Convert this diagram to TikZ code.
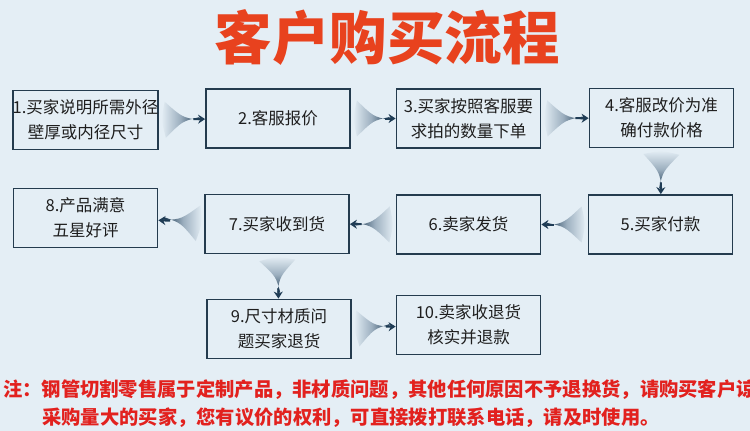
\documentclass[tikz,border=0pt]{standalone}
\usepackage{fontspec}
\newfontfamily\cjk{Noto Sans CJK SC}
\usetikzlibrary{arrows.meta,calc}

\definecolor{bgcol}{HTML}{E4EEF5}
\definecolor{boxline}{HTML}{243B4E}
\definecolor{textcol}{HTML}{1E1E1E}
\definecolor{titlecol}{HTML}{E8421E}
\definecolor{notecol}{HTML}{E2211E}
\definecolor{fanmid}{HTML}{9CAFBF}
\definecolor{fandark}{HTML}{1F3C55}

% shaded fan behind each connector: #1 source anchor, #2 target anchor, #3 shading angle
\newcommand{\fan}[3]{%
  \coordinate (fs) at ($(#1)!6pt!(#2)$);
  \coordinate (ft) at ($(#2)!6pt!(#1)$);
  \shade[top color=bgcol, bottom color=fandark, middle color=fanmid, shading angle=#3]
    ($(fs)!18pt!90:(ft)$) .. controls ($(fs)!0.5!(ft)!2pt!90:(ft)$) .. ($(ft)!1.5pt!90:(fs)$)
    -- ($(ft)!1.5pt!-90:(fs)$)
    .. controls ($(fs)!0.5!(ft)!2pt!-90:(ft)$) .. ($(fs)!18pt!-90:(ft)$)
    .. controls ($(fs)!-4pt!(ft)$) .. ($(fs)!18pt!90:(ft)$) -- cycle;
}

\begin{document}
\begin{tikzpicture}[
    x=1pt, y=-1pt,
    box/.style={draw=boxline, line width=1.8pt, fill=bgcol, minimum width=144pt,
        minimum height=59pt, inner sep=0pt, align=center, text=textcol,
        font=\cjk\fontsize{16.5}{25}\selectfont},
    conn/.style={-{Stealth[length=7pt,width=9pt]}, line width=2pt, draw=fandark,
        shorten <=34pt}
]
    \useasboundingbox (0,0) rectangle (750,431);
    \fill[bgcol] (0,0) rectangle (750,431);
    \clip (0,0) rectangle (750,431);

    \node[text=titlecol, font=\cjk\bfseries\fontsize{57.5}{60}\selectfont] (title) at (387,38) {客户购买流程};

    % first row
    \node[box] (b1) at (85.5,120) {1.买家说明所需外径\\壁厚或内径尺寸};
    \node[box] (b2) at (278,118.5) {2.客服报价};
    \node[box] (b3) at (468.5,118.5) {3.买家按照客服要\\求拍的数量下单};
    \node[box] (b4) at (661.5,118) {4.客服改价为准\\确付款价格};

    % second row
    \node[box] (b5) at (660.5,224.5) {5.买家付款};
    \node[box] (b6) at (468.5,224.5) {6.卖家发货};
    \node[box] (b7) at (277,224) {7.买家收到货};
    \node[box] (b8) at (85.5,218) {8.产品满意\\五星好评};

    % third row
    \node[box] (b9) at (279,329) {9.尺寸材质问\\题买家退货};
    \node[box] (b10) at (468.5,325) {10.卖家收退货\\核实并退款};

    % fans
    \fan{b1.east}{b2.west}{90}
    \fan{b2.east}{b3.west}{90}
    \fan{b3.east}{b4.west}{90}
    \fan{b4.south}{b5.north}{0}
    \fan{b5.west}{b6.east}{-90}
    \fan{b6.west}{b7.east}{-90}
    \fan{b7.west}{b8.east}{-90}
    \fan{b7.south}{b9.north}{0}
    \fan{b9.east}{b10.west}{90}

    % connectors
    \draw[conn] (b1) -- (b2);
    \draw[conn] (b2) -- (b3);
    \draw[conn] (b3) -- (b4);
    \draw[conn] (b4) -- (b5);
    \draw[conn] (b5) -- (b6);
    \draw[conn] (b6) -- (b7);
    \draw[conn] (b7) -- (b8);
    \draw[conn] (b7) -- (b9);
    \draw[conn] (b9) -- (b10);

    % note
    \node[anchor=west, inner sep=0pt, text=notecol, font=\cjk\bfseries\fontsize{19.3}{20}\selectfont] (note1) at (3,390)
        {注：钢管切割零售属于定制产品，非材质问题，其他任何原因不予退换货，请购买客户谅解。};
    \node[anchor=west, inner sep=0pt, text=notecol, font=\cjk\bfseries\fontsize{19.3}{20}\selectfont] (note2) at (42,418)
        {采购量大的买家，您有议价的权利，可直接拨打联系电话，请及时使用。};
\end{tikzpicture}
\end{document}
